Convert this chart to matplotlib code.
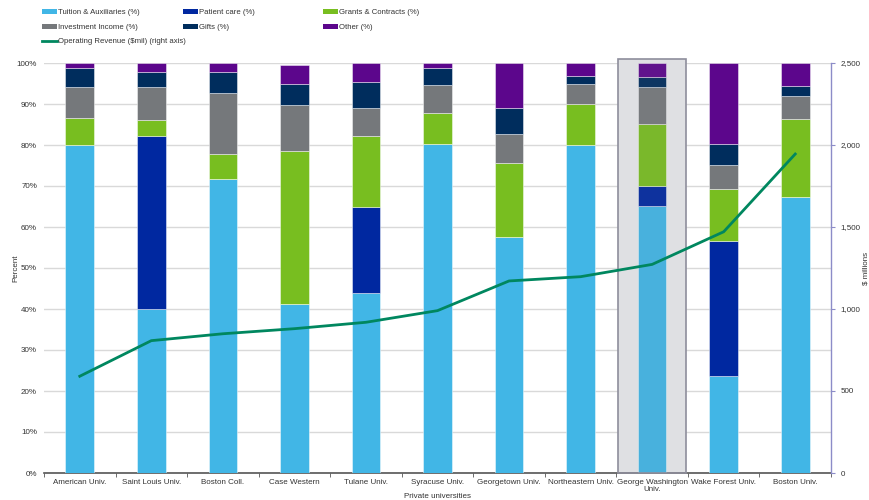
import matplotlib
matplotlib.use("Agg")
import matplotlib.pyplot as plt
from matplotlib.patches import Rectangle, Patch
from matplotlib.lines import Line2D
from matplotlib.ticker import FuncFormatter, MultipleLocator

plt.rcParams['font.family'] = ['Liberation Sans', 'DejaVu Sans']

categories = ["American Univ.", "Saint Louis Univ.", "Boston Coll.", "Case Western",
              "Tulane Univ.", "Syracuse Univ.", "Georgetown Univ.", "Northeastern Univ.",
              "George Washington\nUniv.", "Wake Forest Univ.", "Boston Univ."]
tuition = [80.0, 39.9, 71.6, 41.3, 43.9, 80.3, 57.6, 80.0, 65.1, 23.6, 67.3]
patient = [0, 42.2, 0, 0, 21.0, 0, 0, 0, 4.9, 33.0, 0]
grants = [6.7, 4.1, 6.1, 37.3, 17.2, 7.6, 18.0, 10.1, 15.1, 12.6, 19.0]
invest = [7.5, 7.9, 15.1, 11.2, 6.9, 6.8, 7.0, 4.8, 9.1, 5.9, 5.7]
gifts = [4.7, 3.7, 5.1, 5.2, 6.3, 4.0, 6.5, 1.9, 2.5, 5.1, 2.5]
other = [1.1, 2.1, 2.1, 4.5, 4.7, 1.3, 10.9, 3.2, 3.3, 19.8, 5.5]
revenue = [590, 807, 849, 880, 919, 990, 1171, 1197, 1272, 1471, 1945]

series_names = ["Tuition & Auxiliaries (%)", "Patient care (%)", "Grants & Contracts (%)",
                "Investment Income (%)", "Gifts (%)", "Other (%)"]
series_vals = [tuition, patient, grants, invest, gifts, other]
colors = ["#41B6E6", "#0028A0", "#78BE20", "#75787B", "#002D5D", "#5C068C"]
line_color = "#00875F"
highlight_idx = 8
txt = "#333333"
fs = 5.8

W, H = 869, 500
fig = plt.figure(figsize=(W / 100, H / 100), dpi=100)
ax = fig.add_axes([44 / W, 1 - 473 / H, (831 - 44) / W, (473 - 63) / H])

x = list(range(len(categories)))
bottom = [0.0] * len(categories)
for vals, col in zip(series_vals, colors):
    ax.bar(x, vals, width=0.4, bottom=bottom, color=col, edgecolor=(1, 1, 1, 0.45),
           linewidth=0.7, zorder=3)
    bottom = [b + v for b, v in zip(bottom, vals)]

# highlight box
ax.add_patch(Rectangle((highlight_idx - 0.475, 0), 0.95, 101, facecolor="#E9EAEC",
                       edgecolor="none", zorder=1, clip_on=False))
ax.add_patch(Rectangle((highlight_idx - 0.475, 0), 0.95, 101, facecolor=(0.55, 0.55, 0.58, 0.1),
                       edgecolor="#8E8E9C", linewidth=1.2, zorder=4, clip_on=False))

ax.set_xlim(-0.5, len(categories) - 0.5)
ax.set_ylim(0, 100)
ax.yaxis.set_major_locator(MultipleLocator(10))
ax.yaxis.set_major_formatter(FuncFormatter(lambda v, p: f"{int(v)}%"))
ax.grid(axis='y', color="#D9D9D9", linewidth=1.0, zorder=0)
ax.set_axisbelow(True)
for s in ["left", "top", "right"]:
    ax.spines[s].set_visible(False)
ax.spines["bottom"].set_color("#555555")
ax.spines["bottom"].set_linewidth(1.2)
ax.set_xticks(x)
ax.set_xticklabels(categories, fontsize=fs, color=txt, linespacing=1.0)
ax.set_xticks([i - 0.5 for i in range(len(categories) + 1)], minor=True)
ax.tick_params(axis='x', which='major', length=0, pad=4)
ax.tick_params(axis='x', which='minor', length=3, color="#555555")
ax.tick_params(axis='y', length=0, labelsize=fs, labelcolor=txt, pad=5)
ax.set_ylabel("Percent", fontsize=fs, color=txt, labelpad=-2)
ax.set_xlabel("Private universities", fontsize=fs, color=txt, labelpad=0)

ax2 = ax.twinx()
ax2.plot(x, revenue, color=line_color, linewidth=2.0, zorder=5)
ax2.set_ylim(0, 2500)
ax2.yaxis.set_major_locator(MultipleLocator(500))
ax2.yaxis.set_major_formatter(FuncFormatter(lambda v, p: f"{int(v):,}"))
for s in ["left", "top", "bottom"]:
    ax2.spines[s].set_visible(False)
ax2.spines["right"].set_color("#8C8CC8")
ax2.spines["right"].set_linewidth(1.0)
ax2.tick_params(axis='y', length=3, color="#8C8CC8", labelsize=fs, labelcolor=txt, pad=4)
ax2.set_ylabel("$ millions", fontsize=fs, color=txt, labelpad=1)

# legend: three columns placed manually
handles = [Patch(facecolor=c, edgecolor='none') for c in colors]
line_handle = Line2D([0], [0], color=line_color, linewidth=2)
cols = [
    ([handles[0], handles[3], line_handle],
     [series_names[0], series_names[3], "Operating Revenue ($mil) (right axis)"], 42),
    ([handles[1], handles[4]], [series_names[1], series_names[4]], 183),
    ([handles[2], handles[5]], [series_names[2], series_names[5]], 323),
]
for hs, ls, px in cols:
    fig.legend(hs, ls, loc='upper left', bbox_to_anchor=(px / W, 1 - 9 / H),
               frameon=False, handlelength=1.9, handleheight=0.6,
               handletextpad=0.15, labelspacing=0.95, borderpad=0, borderaxespad=0,
               labelcolor=txt, prop={'family': ['Liberation Sans'], 'size': 5.6})

fig.savefig("out.png", dpi=100)
